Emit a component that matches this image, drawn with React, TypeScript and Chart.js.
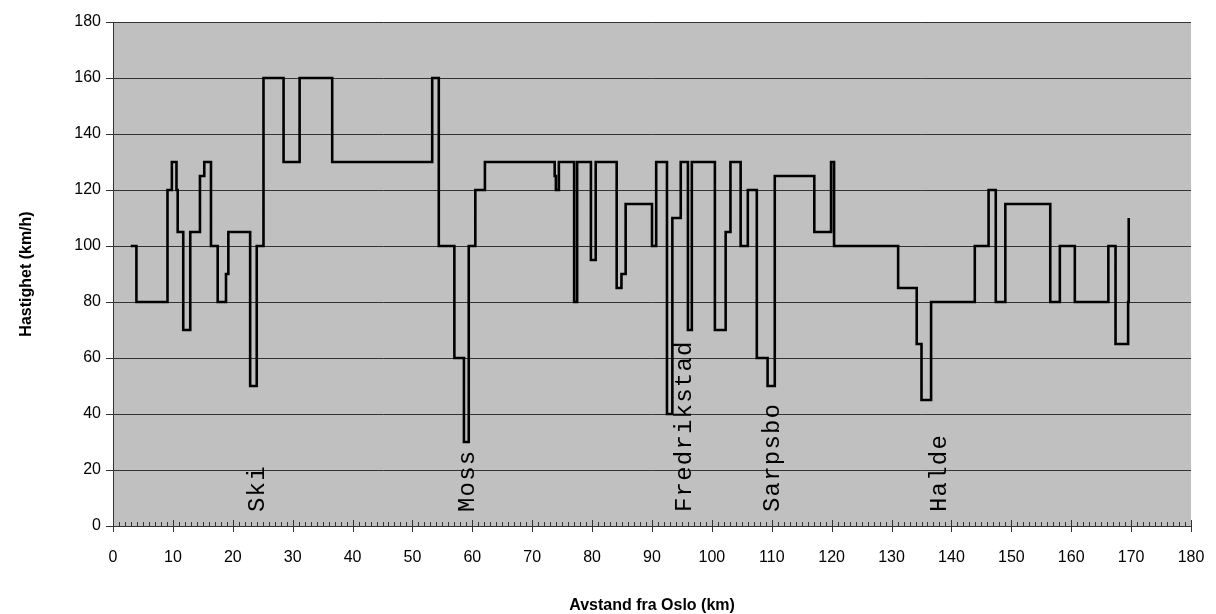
import React, { useEffect, useRef } from 'react';
import { Chart, registerables } from 'chart.js';

Chart.register(...registerables);

// Distance (km) where each speed-limit section starts
const changeKm = [
  2.96, 3.91, 9.1, 9.83, 10.6, 10.8, 11.73, 12.9, 14.52, 15.24, 16.36, 17.48, 18.87, 19.26,
  22.9, 24.0, 25.13, 28.48, 31.16, 36.6, 53.3, 54.4, 57.0, 58.6, 59.4, 60.5, 62.1,
  73.75, 73.95, 74.45, 77.0, 77.5, 79.8, 80.6, 84.1, 84.9, 85.6, 90.0, 90.7,
  92.5, 93.4, 94.8, 96.0, 96.65, 100.5, 102.3, 103.1, 104.8, 106.0, 107.5, 109.3, 110.5,
  117.1, 119.9, 120.4, 131.1, 134.2, 135.0, 136.6, 143.9, 146.2, 147.4, 149.0,
  156.5, 158.1, 160.6, 166.2, 167.4, 169.5, 169.6,
];
// Speed (km/h) valid from the matching distance
const speedKmh = [
  100, 80, 120, 130, 120, 105, 70, 105, 125, 130, 100, 80, 90, 105,
  50, 100, 160, 130, 160, 130, 160, 100, 60, 30, 100, 120, 130,
  125, 120, 130, 80, 130, 95, 130, 85, 90, 115, 100, 130,
  40, 110, 130, 70, 130, 70, 105, 130, 100, 120, 60, 50, 125,
  105, 130, 100, 85, 65, 45, 80, 100, 120, 80, 115,
  80, 100, 80, 100, 65, 80, 110,
];

const placeNames = ['Ski', 'Moss', 'Fredrikstad', 'Sarpsbo', 'Halde'];
const placeKm = [24.2, 59.2, 95.5, 110.2, 138.0];

const xMin = 0;
const xMax = 180;
const xStep = 10;
const yMin = 0;
const yMax = 180;
const yStep = 20;

const SANS = "'Liberation Sans', Arial, sans-serif";
const MONO = "'Liberation Mono', 'Courier New', monospace";

const plotBg = {
  id: 'plotBg',
  beforeDraw(chart: any) {
    const { ctx, chartArea } = chart;
    ctx.save();
    ctx.fillStyle = '#c0c0c0';
    ctx.fillRect(chartArea.left, chartArea.top, chartArea.right - chartArea.left, chartArea.bottom - chartArea.top);
    ctx.restore();
  },
};

const xTickMarks = {
  id: 'xTickMarks',
  beforeDatasetsDraw(chart: any) {
    const { ctx, chartArea, scales } = chart;
    const xs = scales.x;
    ctx.save();
    ctx.strokeStyle = '#333';
    ctx.lineWidth = 1;
    ctx.beginPath();
    for (let v = xMin; v <= xMax; v += 1) {
      const px = Math.round(xs.getPixelForValue(v)) + 0.5;
      const major = v % xStep === 0;
      ctx.moveTo(px, chartArea.bottom + (major ? 6 : 0));
      ctx.lineTo(px, chartArea.bottom - (major ? 6 : 4));
    }
    ctx.stroke();
    ctx.restore();
  },
};

const placeLabels = {
  id: 'placeLabels',
  afterDatasetsDraw(chart: any) {
    const { ctx, chartArea, scales } = chart;
    ctx.save();
    ctx.fillStyle = '#000';
    ctx.font = `24px ${MONO}`;
    (ctx as any).letterSpacing = '1.2px';
    ctx.textAlign = 'left';
    ctx.textBaseline = 'middle';
    placeNames.forEach((name, i) => {
      const px = scales.x.getPixelForValue(placeKm[i]);
      ctx.save();
      ctx.translate(px, chartArea.bottom - 14);
      ctx.rotate(-Math.PI / 2);
      ctx.fillText(name, 0, 0);
      ctx.restore();
    });
    ctx.restore();
  },
};

export default function App() {
  const canvasRef = useRef<HTMLCanvasElement | null>(null);

  useEffect(() => {
    if (!canvasRef.current) return;
    const chart = new Chart(canvasRef.current, {
      type: 'line',
      data: {
        datasets: [
          {
            data: changeKm.map((x, i) => ({ x, y: speedKmh[i] })),
            stepped: true,
            borderColor: '#000',
            borderWidth: 2.6,
            pointRadius: 0,
            fill: false,
          },
        ],
      },
      options: {
        responsive: false,
        animation: false,
        devicePixelRatio: 1,
        layout: { padding: { left: 0, right: 25, top: 22, bottom: 0 } },
        plugins: {
          legend: { display: false },
          tooltip: { enabled: false },
        },
        scales: {
          x: {
            type: 'linear',
            min: xMin,
            max: xMax,
            ticks: {
              stepSize: xStep,
              color: '#000',
              font: { family: SANS, size: 16 },
              padding: 0,
              maxRotation: 0,
            },
            grid: {
              drawOnChartArea: false,
              drawTicks: true,
              tickLength: 22,
              tickColor: 'rgba(0,0,0,0)',
              color: '#333',
            },
            border: { display: true, color: '#333', width: 1 },
            title: {
              display: true,
              text: 'Avstand fra Oslo (km)',
              color: '#000',
              font: { family: SANS, size: 16, weight: 'bold', lineHeight: 1.1 },
              padding: { top: 0, bottom: 0 },
            },
            afterFit(scale: any) {
              scale.height = 88;
            },
          },
          y: {
            type: 'linear',
            min: yMin,
            max: yMax,
            ticks: {
              stepSize: yStep,
              color: '#000',
              font: { family: SANS, size: 16 },
              padding: 5,
            },
            grid: { drawOnChartArea: true, drawTicks: true, tickLength: 7, color: '#333', lineWidth: 1 },
            border: { display: true, color: '#333', width: 1 },
            title: {
              display: true,
              text: 'Hastighet (km/h)',
              color: '#000',
              font: { family: SANS, size: 16, weight: 'bold' },
              padding: { top: 17, bottom: 0 },
            },
            afterFit(scale: any) {
              scale.width = 113;
            },
          },
        },
      },
      plugins: [plotBg, xTickMarks, placeLabels],
    });
    return () => chart.destroy();
  }, []);

  return (
    <div style={{ position: 'fixed', left: 0, top: 0, width: 1216, height: 614, background: '#fff' }}>
      <canvas ref={canvasRef} width={1216} height={614} />
    </div>
  );
}
